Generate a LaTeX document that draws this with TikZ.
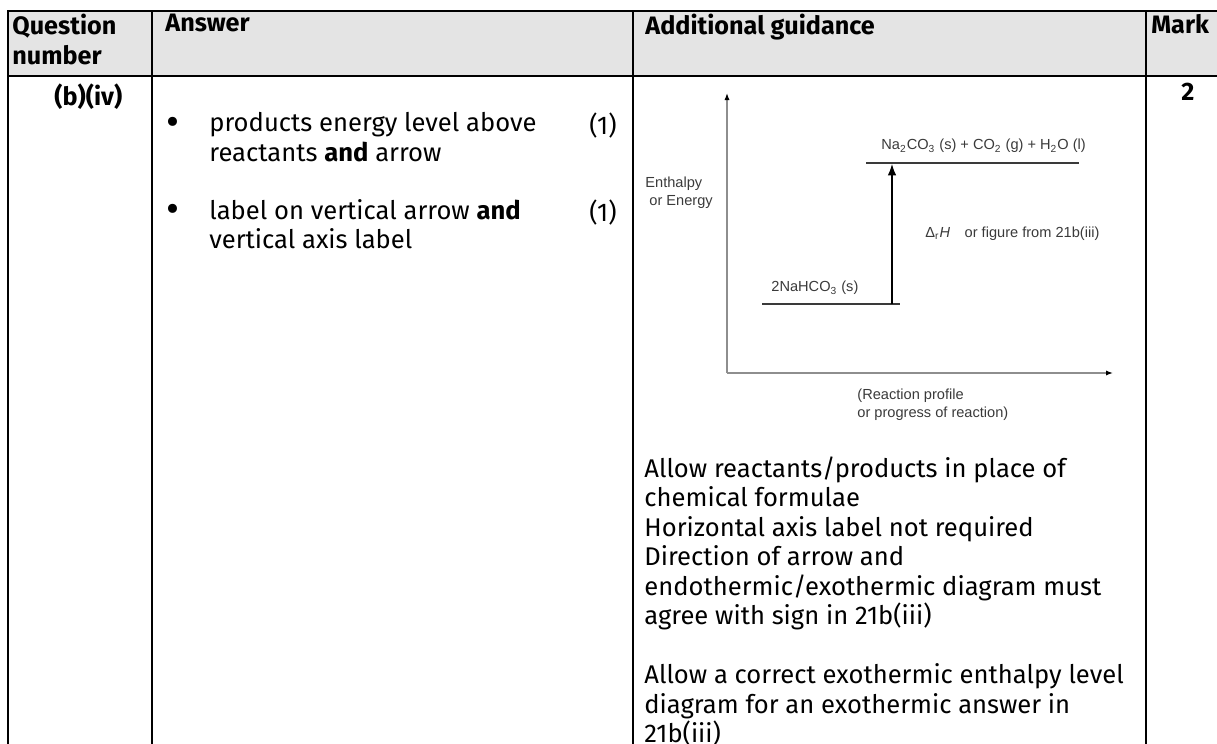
\documentclass[tikz,border=0pt]{standalone}
\usepackage{fontspec}
\setmainfont{Fira Sans}
\newfontfamily\plotfont{Liberation Sans}
\usetikzlibrary{arrows.meta}
\definecolor{headfill}{HTML}{E4E4E4}
\definecolor{plotgray}{HTML}{8E8E8E}
\definecolor{plotink}{HTML}{3A3A3A}

\begin{document}
\begin{tikzpicture}[x=.5pt,y=-.5pt,>=Latex,
  rule/.style={line width=.9pt},
  cell/.style={inner sep=0,anchor=north west,align=left,font=\fontsize{12.8}{14.75}\selectfont},
  headcell/.style={cell,font=\fontsize{12.6}{14.75}\selectfont\bfseries},
  dot/.style={inner sep=0,font=\fontsize{20}{20}\selectfont},
  plotlabel/.style={inner sep=0,align=left,text=plotink,font=\plotfont\fontsize{7.3}{8.8}\selectfont},
  axis/.style={plotgray,line width=.7pt,-{Latex[length=3.5pt,width=2.6pt,black]}},
  level/.style={plotink,line width=.6pt}]
\useasboundingbox (0,0) rectangle (1217,744);
% table frame
\fill[headfill] (8,11) rectangle (1217,76);
\draw[rule] (1217,11) -- (8,11) -- (8,744);
\draw[rule] (8,76) -- (1217,76);
\foreach \x in {152,633,1146}{\draw[rule] (\x,11) -- (\x,744);}
% header row
\node[headcell] (qhead) at (12,14) {Question\\number};
\node[headcell] (ahead) at (165,14) {Answer};
\node[headcell] (ghead) at (645,14) {Additional guidance};
\node[headcell] (mhead) at (1151,14) {Mark};
\node[headcell] (qnum) at (54,83) {(b)(iv)};
\node[headcell] (total) at (1181,83) {2};
% answer column
\node[dot] (bul1) at (173,126) {\textbullet};
\node[cell] (pt1) at (209,112) {products energy level above\\reactants \textbf{and} arrow};
\node[cell] (mk1) at (589,112) {(1)};
\node[dot] (bul2) at (173,213) {\textbullet};
\node[cell] (pt2) at (209,199) {label on vertical arrow \textbf{and}\\vertical axis label};
\node[cell] (mk2) at (589,199) {(1)};
% enthalpy level diagram
\coordinate (O) at (727,373);
\coordinate (ytip) at (727,93);
\coordinate (xtip) at (1113,373);
\coordinate (r1) at (762,304);
\coordinate (r2) at (900,304);
\coordinate (p1) at (866,163);
\coordinate (p2) at (1079,163);
\coordinate (dhfoot) at (892,304);
\coordinate (dhtip) at (892,164);
\draw[axis] (O) -- (ytip);
\draw[axis] (O) -- (xtip);
\draw[level] (r1) -- (r2);
\draw[level] (p1) -- (p2);
\draw[->,line width=.6pt] (dhfoot) -- (dhtip);
\node[plotlabel,anchor=west] (prodlbl) at (881,146) {Na\textsubscript{2}CO\textsubscript{3} (s) + CO\textsubscript{2} (g) + H\textsubscript{2}O (l)};
\node[plotlabel,anchor=west] (reaclbl) at (771,288) {2NaHCO\textsubscript{3} (s)};
\node[plotlabel,anchor=west] (dhlbl) at (925,234) {Δ\textsubscript{r}\textit{H}\quad or figure from 21b(iii)};
\node[plotlabel,anchor=north west] (ylbl) at (645,177) {Enthalpy\\\hspace{2pt}or Energy};
\node[plotlabel,anchor=north west] (xlbl) at (857,389) {(Reaction profile\\or progress of reaction)};
% guidance text
\node[cell] (guide) at (644,456) {Allow reactants/products in place of\\chemical formulae\\Horizontal axis label not required\\Direction of arrow and\\endothermic/exothermic diagram must\\agree with sign in 21b(iii)\\[14.75pt]Allow a correct exothermic enthalpy level\\diagram for an exothermic answer in\\21b(iii)};
\end{tikzpicture}
\end{document}
